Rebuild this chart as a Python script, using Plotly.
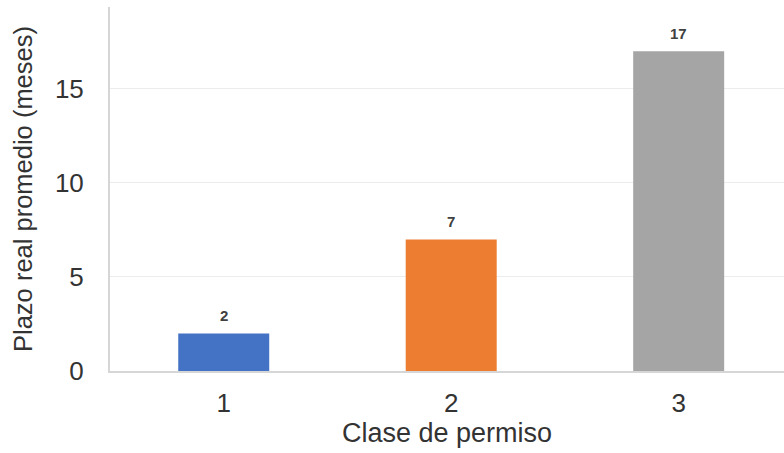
import plotly.graph_objects as go

categories = ["1", "2", "3"]
values = [2, 7, 17]
colors = ["#4472C4", "#ED7D31", "#A5A5A5"]
y_ticks = [0, 5, 10, 15]
x_title = "Clase de permiso"
y_title = "Plazo real promedio (meses)"

font_family = "Liberation Sans, Arial, sans-serif"
text_color = "#404040"
label_color = "#333333"

fig = go.Figure()
fig.add_trace(go.Bar(
    x=categories, y=values, marker=dict(color=colors, line=dict(width=0)),
    width=0.4, showlegend=False, hoverinfo="x+y",
))

for i, v in enumerate(values):
    fig.add_annotation(x=i, y=v, xref="x", yref="y", text=f"<b>{v}</b>", showarrow=False,
                       yanchor="bottom", yshift=7,
                       font=dict(size=15, color=text_color, family=font_family))

fig.update_layout(
    width=784, height=453,
    margin=dict(l=110, r=0, t=7, b=82),
    plot_bgcolor="white", paper_bgcolor="white",
    font=dict(family=font_family, color=text_color, size=26),
    xaxis=dict(
        type="category", range=[-0.5, 2.463], automargin=False,
        showline=True, linecolor="#d6d6d6", linewidth=2,
        showgrid=False, ticks="", ticklabelstandoff=8,
        tickfont=dict(size=26, color=label_color),
        title=dict(text=x_title, standoff=3, font=dict(size=27, color=label_color)),
    ),
    yaxis=dict(
        range=[0, 19.36], tickvals=y_ticks, automargin=False,
        showline=True, linecolor="#d6d6d6", linewidth=2,
        showgrid=True, gridcolor="#ececec", gridwidth=1,
        zeroline=False, ticks="", ticklabelstandoff=19,
        tickfont=dict(size=26, color=label_color),
        title=dict(text=y_title, standoff=15, font=dict(size=25.5, color=label_color)),
    ),
)

fig.write_html(
    "out.html",
    config={"displayModeBar": False},
    post_script="document.documentElement.style.margin='0';document.body.style.margin='0';"
                "document.body.style.overflow='hidden';",
)
